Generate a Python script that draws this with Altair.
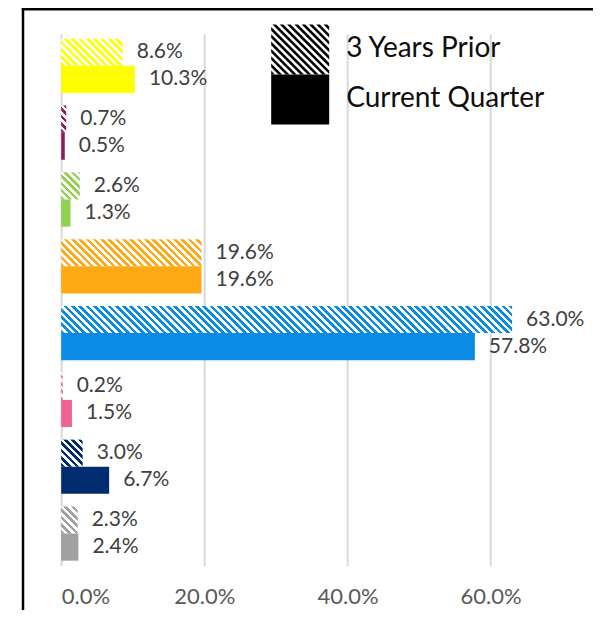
import altair as alt
import pandas as pd

# ---------------- data ----------------
categories = ["Category 1", "Category 2", "Category 3", "Category 4",
              "Category 5", "Category 6", "Category 7", "Category 8"]
colors = ["#FFFF00", "#8E1B5E", "#92D050", "#FFA915",
          "#0A8BE6", "#F0628F", "#002C6F", "#A0A0A0"]
periods = ["3 Years Prior", "Current Quarter"]
prior = [0.086, 0.007, 0.026, 0.196, 0.630, 0.002, 0.030, 0.023]
current = [0.103, 0.005, 0.013, 0.196, 0.578, 0.015, 0.067, 0.024]
x_ticks = [0.0, 0.2, 0.4, 0.6]

rows = []
for c, p, q in zip(categories, prior, current):
    rows.append({"cat": c, "period": periods[0], "value": p})
    rows.append({"cat": c, "period": periods[1], "value": q})
df = pd.DataFrame(rows)

# ---------------- layout / style ----------------
W, H = 501, 532
XMAX = 0.7
PAD_INNER = 0.188
PAD_OUTER = 0.075
STRIPE = 7.3          # horizontal period of hatch stripes, px
FONT = "Lato"
PAD_L, PAD_T, PAD_R, PAD_B = 53.2, 25.7, 31, 44

n = len(categories)
step = H / (n - PAD_INNER + 2 * PAD_OUTER)
bar_h = step * (1 - PAD_INNER) / 2


def hatch_gradient(color, w, h, period=STRIPE):
    """Diagonal stripes as a hard-stop linear gradient (bbox units)."""
    w = max(w, 0.5)
    span = w + h
    k = span / (w * w + h * h)
    stops = []
    s = period / span
    t = 0.0
    while t < 1:
        t_mid = min(t + s / 2, 1)
        t_end = min(t + s, 1)
        stops.append({"offset": round(t, 5), "color": color})
        stops.append({"offset": round(t_mid, 5), "color": color})
        if t_mid < 1:
            stops.append({"offset": round(t_mid, 5), "color": "#FFFFFF"})
            stops.append({"offset": round(t_end, 5), "color": "#FFFFFF"})
        t += s
    return {"gradient": "linear", "stops": stops,
            "x1": 0, "y1": 1, "x2": round(k * w, 5), "y2": round(1 - k * h, 5)}


def clip(poly, a, b, c):
    out = []
    m = len(poly)
    for i in range(m):
        P, Q = poly[i], poly[(i + 1) % m]
        fp = a * P[0] + b * P[1] - c
        fq = a * Q[0] + b * Q[1] - c
        if fp <= 0:
            out.append(P)
        if (fp <= 0) != (fq <= 0):
            t = fp / (fp - fq)
            out.append((P[0] + t * (Q[0] - P[0]), P[1] + t * (Q[1] - P[1])))
    return out


SYM = 58.0
A = 0.86
rect_poly = [(-1, -A), (1, -A), (1, A), (-1, A)]
per = STRIPE / (SYM / 2)
parts = []
c0 = -1 - A
while c0 < 1 + A:
    poly = clip(rect_poly, 1, -1, c0 + per / 2)
    poly = clip(poly, -1, 1, -c0)
    if len(poly) >= 3:
        parts.append("M" + " L".join(f"{x:.3f},{y:.3f}" for x, y in poly) + " Z")
    c0 += per
hatch_path = " ".join(parts)
solid_path = f"M-1,{-A} L1,{-A} L1,{A} L-1,{A} Z"
legend_paths = [hatch_path, solid_path]
legend_y = [-13.2, 36.8]      # legend placement inside the plot frame
LEGEND_X = 210

# ---------------- encodings ----------------
x_enc = alt.X(
    "value:Q", title=None,
    scale=alt.Scale(domain=[0, XMAX], nice=False, zero=True),
    axis=alt.Axis(values=x_ticks, format=".1%", grid=True, domain=False,
                  ticks=False, labelFont=FONT, labelFontSize=22,
                  labelColor="#595959", labelPadding=21,
                  gridColor="#D9D9D9", gridWidth=2),
)
y_enc = alt.Y("cat:N", axis=None,
              scale=alt.Scale(domain=categories, paddingInner=PAD_INNER,
                              paddingOuter=PAD_OUTER))
yoff = alt.YOffset("period:N", scale=alt.Scale(domain=periods))

base = alt.Chart(df)
one = alt.Chart(pd.DataFrame({"d": [0]}))
layers = []

# frame (left and top edges of the outer border)
layers.append(
    one.mark_rule(color="black", strokeWidth=2.5)
    .encode(x=alt.value(-38.2), y=alt.value(-PAD_T), y2=alt.value(H + 200))
)
layers.append(
    one.mark_rule(color="black", strokeWidth=2.5)
    .encode(x=alt.value(-39.4), x2=alt.value(W + 200), y=alt.value(-PAD_T + 1.25))
)

# hatched bars (3 Years Prior)
for c, col, v in zip(categories, colors, prior):
    w_px = v / XMAX * W
    layers.append(
        base.transform_filter(
            (alt.datum.cat == c) & (alt.datum.period == periods[0])
        ).mark_bar(fill=hatch_gradient(col, w_px, bar_h), strokeWidth=0)
        .encode(x=x_enc, y=y_enc, yOffset=yoff)
    )

# solid bars (Current Quarter)
layers.append(
    base.transform_filter(alt.datum.period == periods[1]).mark_bar()
    .encode(x=x_enc, y=y_enc, yOffset=yoff,
            color=alt.Color("cat:N", scale=alt.Scale(domain=categories, range=colors),
                            legend=None))
)

# value labels
layers.append(
    base.mark_text(align="left", baseline="middle", dx=14, font=FONT,
                   fontSize=21, color="#404040")
    .encode(x=x_enc, y=y_enc, yOffset=yoff,
            text=alt.Text("value:Q", format=".1%"))
)

# legends: one empty point layer per period, each carrying its own legend
for per_name, path, ly in zip(periods, legend_paths, legend_y):
    layers.append(
        base.transform_filter("false").mark_point(filled=True, color="black", opacity=1)
        .encode(
            x=x_enc, y=y_enc,
            shape=alt.Shape(
                "period:N",
                scale=alt.Scale(domain=[per_name], range=[path]),
                legend=alt.Legend(title=None, orient="none", legendX=LEGEND_X, legendY=ly,
                                  symbolSize=SYM * SYM, symbolStrokeWidth=0,
                                  labelFont=FONT, labelFontSize=28, labelColor="#0D0D0D",
                                  labelOffset=17, labelLimit=400, padding=0),
            ),
        )
    )

chart = alt.layer(*layers).resolve_scale(shape="independent").properties(
    width=W, height=H,
    autosize=alt.AutoSizeParams(type="none"),
    padding={"left": PAD_L, "top": PAD_T, "right": PAD_R, "bottom": PAD_B},
    background="white",
).configure_view(strokeWidth=0)

chart.save("out.html", embed_options={"renderer": "svg", "actions": False})
